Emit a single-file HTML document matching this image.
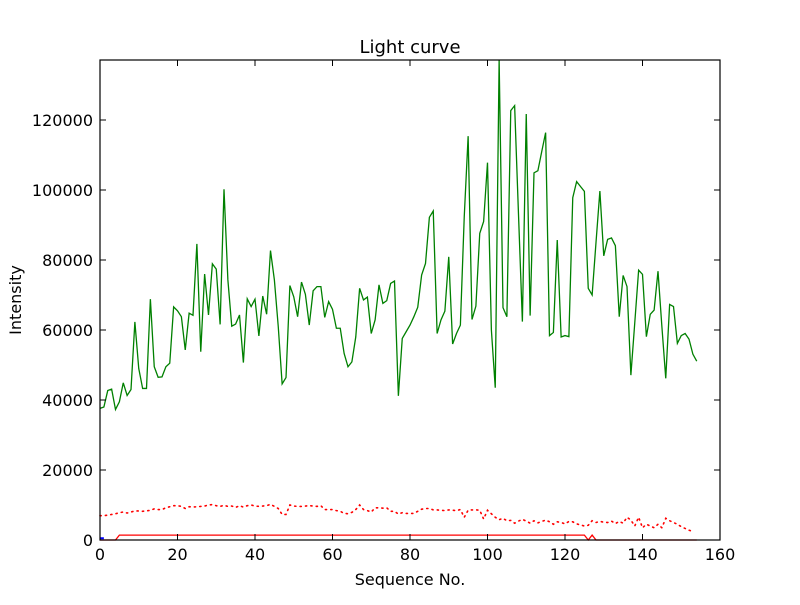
<!DOCTYPE html>
<html><head><meta charset="utf-8"><style>
body{margin:0;background:#fff}
svg text{font-family:"DejaVu Sans","Liberation Sans",sans-serif;fill:#000}
</style></head><body>
<svg id="chart" width="800" height="600" xmlns="http://www.w3.org/2000/svg">
<rect width="800" height="600" fill="#fff"/>
<text x="410" y="53" font-size="18" text-anchor="middle">Light curve</text>
<text x="410" y="585" font-size="16" text-anchor="middle">Sequence No.</text>
<text x="0" y="0" font-size="16" text-anchor="middle" transform="translate(21,300) rotate(-90)">Intensity</text>
<g id="plot"></g>
</svg>
<script>
const xTicks=[0,20,40,60,80,100,120,140,160];
const yTicks=[0,20000,40000,60000,80000,100000,120000];
const greenVals=[37600,38000,42700,43100,37300,39500,44900,41300,43000,62300,49000,43300,43300,68800,49500,46500,46600,49500,50500,66600,65500,63800,54300,64800,64200,84600,53800,76000,64300,78900,77400,61600,100200,74300,61100,61700,64300,50700,68900,66700,68800,58300,69700,64500,82700,74300,61000,44600,46400,72700,69500,63800,73700,70200,61400,71200,72400,72400,63600,68100,65900,60500,60500,53300,49500,50900,58000,71900,68600,69400,59000,62900,72900,67600,68400,73300,74000,41200,57600,59500,61400,63800,66500,75700,79000,92200,94000,59000,62900,65400,80900,56000,59000,61400,92400,115400,63000,66800,87600,91000,107800,60000,43500,137143,66400,63800,122700,124100,93000,62400,121700,64100,104900,105500,111000,116400,58400,59300,85700,58000,58400,58100,97800,102400,101000,99600,71900,70000,85000,99700,81200,85900,86300,84100,63800,75600,72400,47100,62000,77100,75900,58100,64500,65700,76800,61000,46200,67300,66700,56200,58400,59000,57400,53100,51100];
const redDotVals=[6950,6950,7100,7300,7500,7800,8000,7700,8000,8300,8300,8200,8300,8500,8900,8700,8700,9200,9500,9800,9800,9600,9000,9500,9400,9500,9600,9700,10000,10100,9800,9600,9900,9600,9700,9300,9800,9400,9800,10000,9700,9600,9700,9800,10200,9600,9000,7300,7300,10000,9700,9600,9600,9700,9800,9700,9600,9800,8700,8700,8700,8400,8200,7600,7500,7900,8700,10000,8700,8400,8000,9200,9200,9100,9200,8200,8200,7400,7800,7600,7600,7600,8200,8800,9000,9000,8600,8600,8500,8400,8600,8500,8400,8700,6500,8500,8600,8600,8500,6000,8500,7500,6500,5800,6200,5500,5600,4800,5400,5900,5400,4800,5500,4900,5300,5700,5200,4500,5200,5000,4600,5300,5200,4600,4300,4000,4200,5500,5000,5300,5100,5000,5400,4700,5300,4800,6500,5700,4000,6500,3500,4500,4000,3500,4500,3500,6200,5500,5000,4500,3800,3300,2800,2400];
const redSolidVals=greenVals.map((_,i)=>(i>=5&&i<=125)||i===127?1400:0);
const blueVals=[500,500,0];
const L=100,R=720,T=60,B=540,XMAX=160,YMAX=137143;
const xs=v=>L+(v/XMAX)*(R-L);
const ys=v=>B-(v/YMAX)*(B-T);
const g=document.getElementById('plot');
const NS='http://www.w3.org/2000/svg';
function mk(t,a){const e=document.createElementNS(NS,t);for(const k in a)e.setAttribute(k,a[k]);g.appendChild(e);return e;}
function series(vals,color,name,dash,w){
 const pts=vals.map((v,i)=>xs(i).toFixed(2)+','+ys(v).toFixed(2)).join(' ');
 const p=mk('polyline',{points:pts,fill:'none',stroke:color,'stroke-width':w});
 if(dash){p.setAttribute('stroke-dasharray',dash);p.setAttribute('stroke-linecap','round');}
 
 
}
series(redDotVals,'#ff0000','red-dotted-series','1.2 4.2',1.6);
series(greenVals,'#008000','green-series',null,1.3);
series(redSolidVals,'#ff0000','red-solid-series',null,1.3);
series(blueVals.slice(0,2),'#0000ff','blue-series',null,2);
const fr=mk('rect',{x:L,y:T,width:R-L,height:B-T,fill:'none',stroke:'#000','stroke-width':1.2});


xTicks.forEach(v=>{
 const x=xs(v);
 mk('line',{x1:x,x2:x,y1:B,y2:B-6,stroke:'#000'});
 mk('line',{x1:x,x2:x,y1:T,y2:T+6,stroke:'#000'});
 const t=mk('text',{x:x,y:B+20,'font-size':16,'text-anchor':'middle'});
 t.textContent=v;
 
 
});
yTicks.forEach(v=>{
 const y=ys(v);
 mk('line',{x1:L,x2:L+6,y1:y,y2:y,stroke:'#000'});
 mk('line',{x1:R,x2:R-6,y1:y,y2:y,stroke:'#000'});
 const t=mk('text',{x:L-7,y:y+6,'font-size':16,'text-anchor':'end'});
 t.textContent=v;
 
 
});
</script>
</body></html>
